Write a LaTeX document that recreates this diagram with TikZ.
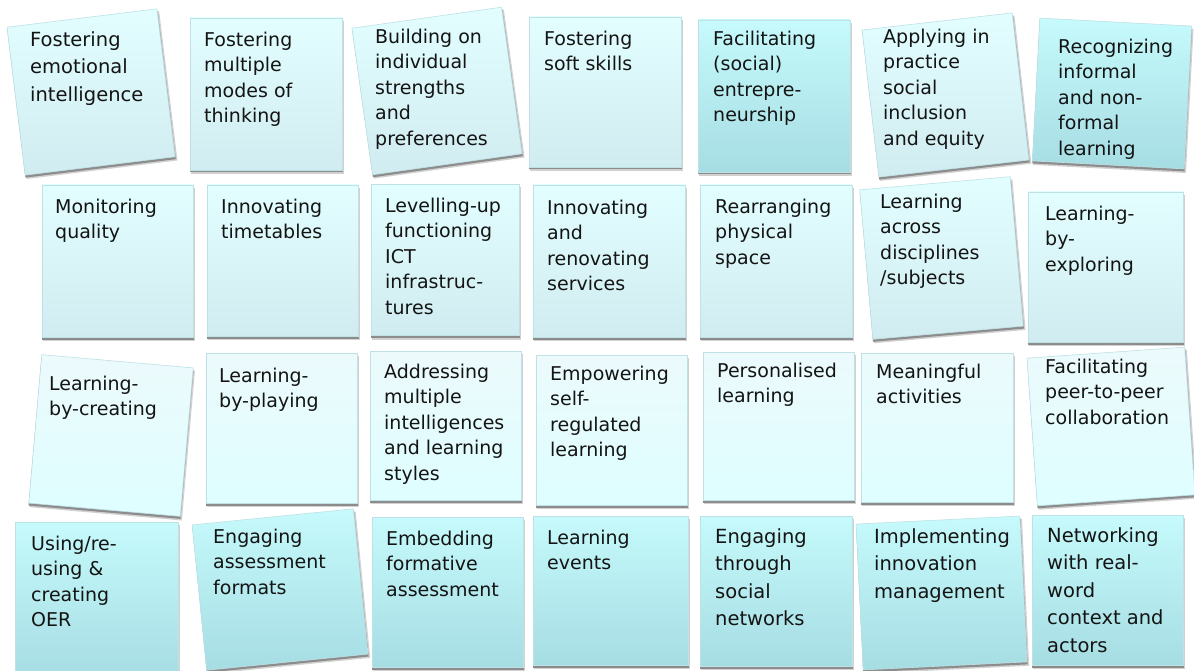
\documentclass[tikz,border=0pt]{standalone}
\usepackage{fontspec}
\setmainfont{DejaVu Sans}
\definecolor{lAtop}{RGB}{226,254,255}
\definecolor{lAbot}{RGB}{208,236,240}
\definecolor{lBtop}{RGB}{236,250,252}
\definecolor{lBbot}{RGB}{222,254,255}
\definecolor{dTop}{RGB}{198,250,252}
\definecolor{dBot}{RGB}{166,221,227}
\definecolor{edge}{RGB}{190,225,230}
\tikzset{
  card/.style={draw=edge,line width=0.6pt,inner sep=0pt},
  lightA/.style={card,top color=lAtop,bottom color=lAbot},
  lightB/.style={card,top color=lBtop,bottom color=lBbot},
  dark/.style={card,top color=dTop,bottom color=dBot},
  txt/.style={inner sep=0pt,align=left,text=black!92,font=\fontsize{19}{25.5}\selectfont},
  loose/.style={font=\fontsize{19.5}{27.5}\selectfont,yshift=1.4pt},
  plain/.style={},
  shadowsoft/.style={fill=black!18},
  shadowhard/.style={fill=black!45}
}
% box: name, centre x, centre y, angle, width, height, style
\newcommand\card[7]{%
\begin{scope}[shift={(#2,-#3)},rotate=#4,transform shape]
\fill[shadowsoft] ({-#5/2+1},{-#6/2-4}) rectangle ({#5/2+2},{#6/2-3});
\fill[shadowhard] ({-#5/2},{-#6/2-2.5}) rectangle ({#5/2+0.5},{#6/2-2});
\node[#7,minimum width=#5pt,minimum height=#6pt] (#1) at (0,0) {};
\end{scope}}
% text: name, left x, first baseline y, text, style
\newcommand\cardtext[5]{%
\node[txt,#5,anchor=north west] (#1) at (#2,{-#3+17.85}) {\strut #4};}
\begin{document}
\begin{tikzpicture}[x=1pt,y=1pt]
\useasboundingbox (0,0) rectangle (1194,-671);
\fill[white] (0,0) rectangle (1194,-671);
\clip (0,0) rectangle (1194,-671);
% row 1
\card{f1}{91}{92}{7}{151}{149}{lightA}
\cardtext{f1t}{30}{46}{Fostering\\emotional\\intelligence}{loose}
\card{f2}{266}{94}{0}{152}{152}{lightA}
\cardtext{f2t}{204}{46}{Fostering\\multiple\\modes of\\thinking}{plain}
\card{f3}{437}{91}{8}{151}{148}{lightA}
\cardtext{f3t}{375}{43}{Building on\\individual\\strengths\\and\\preferences}{plain}
\card{f4}{605}{92}{0}{152}{150}{lightA}
\cardtext{f4t}{544}{45}{Fostering\\soft skills}{plain}
\card{f5}{774}{96}{0}{152}{152}{dark}
\cardtext{f5t}{713}{45}{Facilitating\\(social)\\entrepre-\\neurship}{plain}
\card{f6}{945.5}{95}{6.5}{151}{148}{lightA}
\cardtext{f6t}{883}{43}{Applying in\\practice\\social\\inclusion\\and equity}{plain}
\card{f7}{1112}{93.5}{-3}{152}{143}{dark}
\cardtext{f7t}{1058}{53}{Recognizing\\informal\\and non-\\formal\\learning}{plain}
% row 2
\card{m1}{117.5}{261}{0}{151}{152}{lightA}
\cardtext{m1t}{55}{213}{Monitoring\\quality}{plain}
\card{m2}{282.5}{260.5}{0}{151}{151}{lightA}
\cardtext{m2t}{221}{213}{Innovating\\timetables}{plain}
\card{m3}{445}{260}{0}{148}{151}{lightA}
\cardtext{m3t}{385}{212}{Levelling-up\\functioning\\ICT\\infrastruc-\\tures}{plain}
\card{m4}{609}{261}{0}{152}{152}{lightA}
\cardtext{m4t}{547}{214}{Innovating\\and\\renovating\\services}{plain}
\card{m5}{776}{261}{0}{152}{152}{lightA}
\cardtext{m5t}{715}{213}{Rearranging\\physical\\space}{plain}
\card{m6}{941.5}{258}{5}{151}{150}{lightA}
\cardtext{m6t}{880}{208}{Learning\\across\\disciplines\\/subjects}{plain}
\card{m7}{1105.5}{267}{0}{155}{150}{lightA}
\cardtext{m7t}{1045}{220}{Learning-\\by-\\exploring}{plain}
% row 3
\card{r1}{111}{435.5}{-5}{152}{149}{lightB}
\cardtext{r1t}{49}{390}{Learning-\\by-creating}{plain}
\card{r2}{281.5}{428}{0}{151}{150}{lightB}
\cardtext{r2t}{219}{382}{Learning-\\by-playing}{plain}
\card{r3}{445.5}{425.5}{0}{151}{149}{lightB}
\cardtext{r3t}{384}{378}{Addressing\\multiple\\intelligences\\and learning\\styles}{plain}
\card{r4}{611.5}{430}{0}{151}{150}{lightB}
\cardtext{r4t}{550}{380}{Empowering\\self-\\regulated\\learning}{plain}
\card{r5}{778.5}{426}{0}{151}{148}{lightB}
\cardtext{r5t}{717}{377}{Personalised\\learning}{plain}
\card{r6}{937}{427.5}{0}{152}{149}{lightB}
\cardtext{r6t}{876}{378}{Meaningful\\activities}{plain}
\card{r7}{1111}{426.5}{4}{158}{148}{lightB}
\cardtext{r7t}{1045}{373}{Facilitating\\peer-to-peer\\collaboration}{plain}
% row 4
\card{b1}{96.5}{600}{0}{163}{156}{dark}
\cardtext{b1t}{31}{550}{Using/re-\\using \&\\creating\\OER}{plain}
\card{b2}{280}{589.5}{5.7}{162}{146}{dark}
\cardtext{b2t}{213}{543}{Engaging\\assessment\\formats}{plain}
\card{b3}{447.5}{592}{0}{151}{150}{dark}
\cardtext{b3t}{386}{545}{Embedding\\formative\\assessment}{plain}
\card{b4}{610.5}{590.5}{0}{155}{149}{dark}
\cardtext{b4t}{547}{544}{Learning\\events}{plain}
\card{b5}{776}{591}{0}{152}{150}{dark}
\cardtext{b5t}{715}{543}{Engaging\\through\\social\\networks}{loose}
\card{b6}{941.5}{593}{2.8}{164}{146}{dark}
\cardtext{b6t}{874}{543}{Implementing\\innovation\\management}{loose}
\card{b7}{1107.5}{590}{0}{151}{150}{dark}
\cardtext{b7t}{1047}{542}{Networking\\with real-\\word\\context and\\actors}{loose}
\end{tikzpicture}
\end{document}
